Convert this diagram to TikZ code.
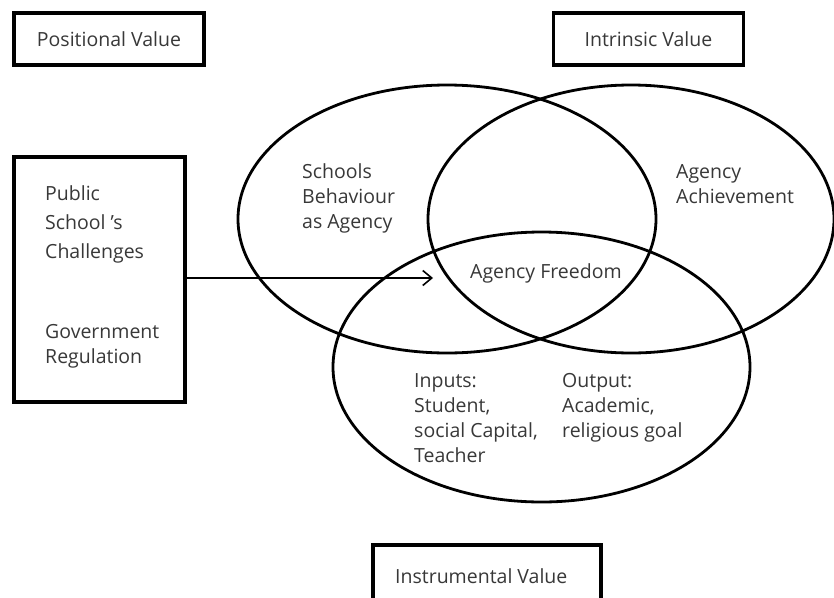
\documentclass[tikz,border=0pt]{standalone}
\usepackage{fontspec}
\setmainfont{Open Sans}
\usetikzlibrary{arrows.meta}
\newcommand\stackedlines[1]{\vtop{#1}}
\begin{document}
\begin{tikzpicture}[x=1pt,y=-1pt,
  txt/.style={font=\fontsize{19.5}{25}\selectfont, text=black!78, inner sep=0pt, anchor=base west},
  valbox/.style={draw=black, line width=3.5pt, minimum width=190pt, minimum height=52pt, inner sep=0pt,
                 font=\fontsize{19.5}{25}\selectfont, text=black!78},
  venn/.style={draw=black, line width=2.8pt},
  flow/.style={draw=black, line width=1.6pt, -{Straight Barb[length=9pt,width=15pt,line width=1.6pt]}}]
\useasboundingbox (0,0) rectangle (834,597);
% value boxes
\node[valbox] (pos) at (109,39) {Positional Value};
\node[valbox] (intr) at (648.5,39) {Intrinsic Value};
% left box
\node[draw=black, line width=3.5pt, minimum width=171pt, minimum height=245pt, inner sep=0pt] (lb) at (99.5,279.5) {};
\node[txt, font=\fontsize{19.5}{29}\selectfont] (chal) at (45,200) {\stackedlines{\hbox{Public}\hbox{School \textquoteright s}\hbox{Challenges}}};
\node[txt] (gov) at (45,338) {\stackedlines{\hbox{Government}\hbox{Regulation}}};
% ellipses
\draw[venn] (447,219) ellipse [x radius=209, y radius=134];
\draw[venn] (631,219) ellipse [x radius=203, y radius=134];
\draw[venn] (541.5,367) ellipse [x radius=208.5, y radius=135];
% labels
\node[txt] (sb) at (302,178) {\stackedlines{\hbox{Schools}\hbox{Behaviour}\hbox{as Agency}}};
\node[txt] (aa) at (676,178) {\stackedlines{\hbox{Agency}\hbox{Achievement}}};
\node[txt] (af) at (470,278) {Agency Freedom};
\node[txt] (inp) at (414,387) {\stackedlines{\hbox{Inputs:}\hbox{Student,}\hbox{social Capital,}\hbox{Teacher}}};
\node[txt] (out) at (562,387) {\stackedlines{\hbox{Output:}\hbox{Academic,}\hbox{religious goal}}};
% arrow
\coordinate (tip) at (433,278);
\draw[flow] (lb.east |- tip) -- (tip);
% instrumental box
\node[txt] (instr) at (395,583) {Instrumental Value};
\draw[line width=3.5pt] (373,600) -- (373,545) -- (601,545) -- (601,600);
\end{tikzpicture}
\end{document}
